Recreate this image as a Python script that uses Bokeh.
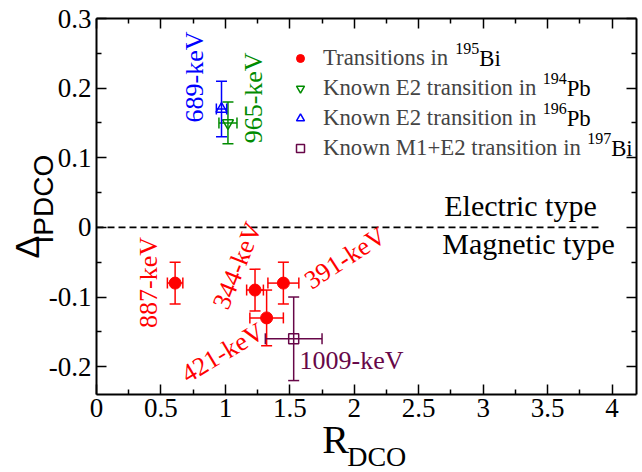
from bokeh.plotting import figure
from bokeh.models import (Range1d, FixedTicker, LinearAxis, Whisker, TeeHead,
                          ColumnDataSource, Legend, LegendItem)
from bokeh.core.properties import value
from bokeh.embed import file_html
from bokeh.resources import INLINE

# ---------------- data ----------------
bi195_x = [0.61, 1.23, 1.45, 1.32]
bi195_y = [-0.08, -0.09, -0.08, -0.13]
bi195_xerr = [0.06, 0.065, 0.12, 0.13]
bi195_yerr = [0.03, 0.03, 0.03, 0.04]
bi195_names = ["887-keV", "344-keV", "391-keV", "421-keV"]

pb194_x = [1.02]
pb194_y = [0.15]
pb194_xerr = [0.07]
pb194_yerr = [0.03]
pb194_names = ["965-keV"]

pb196_x = [0.97]
pb196_y = [0.17]
pb196_xerr = [0.04]
pb196_yerr = [0.04]
pb196_names = ["689-keV"]

bi197_x = [1.53]
bi197_y = [-0.16]
bi197_xerr = [0.22]
bi197_yerr = [0.06]
bi197_names = ["1009-keV"]

legend_main = ["Transitions in",
               "Known E2 transition in",
               "Known E2 transition in",
               "Known M1+E2 transition in"]
legend_mass = ["195", "194", "196", "197"]
legend_elem = ["Bi", "Pb", "Pb", "Bi"]

x_ticks = [0, 0.5, 1, 1.5, 2, 2.5, 3, 3.5, 4]
x_tick_labels = ["0", "0.5", "1", "1.5", "2", "2.5", "3", "3.5", "4"]
x_minor = [0.25, 0.75, 1.25, 1.75, 2.25, 2.75, 3.25, 3.75]
y_ticks = [-0.2, -0.1, 0, 0.1, 0.2, 0.3]
y_tick_labels = ["-0.2", "-0.1", "0", "0.1", "0.2", "0.3"]
y_minor = [-0.15, -0.05, 0.05, 0.15, 0.25]

X_MIN, X_MAX = 0.0, 4.19
Y_MIN, Y_MAX = -0.24, 0.30
zero_line_x = [0, 3.9]

# ---------------- layout ----------------
W, H = 642, 472
BOX_L, BOX_R, BOX_T, BOX_B = 96, 636, 18, 394   # pixel box of the axes
sx = (BOX_R - BOX_L) / (X_MAX - X_MIN)
sy = (BOX_B - BOX_T) / (Y_MAX - Y_MIN)
x_start = X_MIN - BOX_L / sx
x_end = X_MAX + (W - BOX_R) / sx
y_start = Y_MIN - (H - BOX_B) / sy
y_end = Y_MAX + BOX_T / sy


def px2x(px):
    return X_MIN + (px - BOX_L) / sx


def py2y(py):
    return Y_MAX - (py - BOX_T) / sy


RED = "#ff0000"
GREEN = "#008b00"
BLUE = "#0000ff"
MAROON = "#670748"
SERIF = "Liberation Serif"
SANS = "Liberation Sans"

p = figure(width=W, height=H, output_backend="svg", toolbar_location=None,
           x_range=Range1d(x_start, x_end), y_range=Range1d(y_start, y_end),
           min_border=0, background_fill_color="white",
           border_fill_color="white")
p.grid.visible = False
p.outline_line_color = None

xt = FixedTicker(ticks=x_ticks, minor_ticks=x_minor)
yt = FixedTicker(ticks=y_ticks, minor_ticks=y_minor)


def style_axis(ax, ticker, loc, bounds, labels=None):
    ax.ticker = ticker
    ax.fixed_location = loc
    ax.bounds = bounds
    ax.axis_line_color = "black"
    ax.axis_line_width = 2
    ax.major_tick_in = 10
    ax.major_tick_out = 0
    ax.minor_tick_in = 5
    ax.minor_tick_out = 0
    ax.major_tick_line_width = 1.5
    ax.minor_tick_line_width = 1.5
    ax.major_tick_line_color = "black"
    ax.minor_tick_line_color = "black"
    ax.major_label_text_font = SERIF
    ax.major_label_text_font_size = "27px"
    ax.major_label_text_color = "black"
    ax.major_label_overrides = labels


style_axis(p.xaxis[0], xt, Y_MIN, (X_MIN, X_MAX), dict(zip(x_ticks, x_tick_labels)))
p.xaxis[0].major_label_standoff = 4
style_axis(p.yaxis[0], yt, X_MIN, (Y_MIN, Y_MAX), dict(zip(y_ticks, y_tick_labels)))
p.yaxis[0].major_label_standoff = 5

top_ax = LinearAxis()
style_axis(top_ax, xt, Y_MAX, (X_MIN, X_MAX), {t: "" for t in x_ticks})
p.add_layout(top_ax, "above")
right_ax = LinearAxis()
style_axis(right_ax, yt, X_MAX, (Y_MIN, Y_MAX), {t: "" for t in y_ticks})
p.add_layout(right_ax, "right")

# zero line
p.line(x=zero_line_x, y=[0, 0], line_color="black", line_width=1.8, line_dash="7 4")


def add_series(xs, ys, xe, ye, color):
    src = ColumnDataSource(dict(
        x=xs, y=ys,
        xl=[a - b for a, b in zip(xs, xe)], xu=[a + b for a, b in zip(xs, xe)],
        yl=[a - b for a, b in zip(ys, ye)], yu=[a + b for a, b in zip(ys, ye)]))
    for dim, base, lo, hi in (("height", "x", "yl", "yu"), ("width", "y", "xl", "xu")):
        w = Whisker(source=src, base=base, lower=lo, upper=hi, dimension=dim,
                    line_color=color, line_width=1.5, level="glyph",
                    upper_head=TeeHead(size=11, line_color=color, line_width=1.5),
                    lower_head=TeeHead(size=11, line_color=color, line_width=1.5))
        p.add_layout(w)
    return src


s_red = add_series(bi195_x, bi195_y, bi195_xerr, bi195_yerr, RED)
s_green = add_series(pb194_x, pb194_y, pb194_xerr, pb194_yerr, GREEN)
s_blue = add_series(pb196_x, pb196_y, pb196_xerr, pb196_yerr, BLUE)
s_maroon = add_series(bi197_x, bi197_y, bi197_xerr, bi197_yerr, MAROON)

r_red = p.scatter("x", "y", source=s_red, marker="circle", size=12,
                  fill_color=RED, line_color=RED)
r_green = p.scatter("x", "y", source=s_green, marker="inverted_triangle", size=11,
                    fill_color=None, line_color=GREEN, line_width=1.5)
r_blue = p.scatter("x", "y", source=s_blue, marker="triangle", size=11,
                   fill_color=None, line_color=BLUE, line_width=1.5)
r_maroon = p.scatter("x", "y", source=s_maroon, marker="square", size=10,
                     fill_color=None, line_color=MAROON, line_width=1.5)

# legend: markers + main text from Bokeh's Legend, mass number / element after it
LEG_X, LEG_TOP, ROW_H = 290, 43, 30
LEG_FS, SUP_FS = 22.8, 16
TEXT_X0 = LEG_X + 20 + 13
legend = Legend(items=[LegendItem(label=t, renderers=[r])
                       for t, r in zip(legend_main, [r_red, r_green, r_blue, r_maroon])],
                location=(LEG_X, H - (LEG_TOP + 4 * ROW_H)), border_line_color=None,
                background_fill_alpha=0, label_text_font=SERIF,
                label_text_font_size=f"{LEG_FS}px", glyph_width=20,
                glyph_height=ROW_H, label_height=ROW_H, spacing=0, padding=0,
                margin=0, label_standoff=13)
p.add_layout(legend)

# advance widths (em) of "main text + space" in Times-metric serif
main_em = [5.778, 9.611, 9.611, 11.564]
for i in range(4):
    row_c = LEG_TOP + ROW_H * (i + 0.5)
    sup_px = TEXT_X0 + main_em[i] * LEG_FS
    elem_px = sup_px + 1.5 * SUP_FS
    p.text(x=[px2x(sup_px)], y=[py2y(row_c - 10)], text=[legend_mass[i]],
           text_align="left", text_baseline="middle", text_color="black",
           text_font=value(SERIF), text_font_size=f"{SUP_FS}px")
    p.text(x=[px2x(elem_px)], y=[py2y(row_c)], text=[legend_elem[i]],
           text_align="left", text_baseline="middle", text_color="black",
           text_font=value(SERIF), text_font_size=f"{LEG_FS}px")


def put_text(x, y, txt, angle, color, size, font=SERIF, align="center"):
    p.text(x=[x], y=[y], text=[txt], angle=angle, angle_units="deg",
           text_align=align, text_baseline="middle", text_color=color,
           text_font=value(font), text_font_size=size)


# energy labels (layout positions in data units)
put_text(0.762, 0.216, pb196_names[0], 90, BLUE, "26px")
put_text(1.22, 0.186, pb194_names[0], 90, GREEN, "26px")
put_text(0.407, -0.079, bi195_names[0], 90, RED, "26px")
put_text(1.092, -0.055, bi195_names[1], 68, RED, "26px")
put_text(1.93, -0.044, bi195_names[2], 33, RED, "26px")
put_text(0.979, -0.180, bi195_names[3], 31, RED, "26px")
put_text(px2x(299), py2y(360), bi197_names[0], 0, MAROON, "26px", align="left")

put_text(px2x(520), py2y(205), "Electric type", 0, "black", "30px")
put_text(px2x(528), py2y(243), "Magnetic type", 0, "black", "30px")

# axis titles
put_text(px2x(321.7), py2y(439), "R", 0, "black", "40px", align="left")
put_text(px2x(346.7), py2y(455.5), "DCO", 0, "black", "28px", align="left")
put_text(px2x(26.5), py2y(258), "\u0394", 90, "black", "34px", font=SANS, align="left")
put_text(px2x(43), py2y(243), "IPDCO", 90, "black", "28px", font=SANS, align="left")

open("out.html", "w").write(file_html(p, INLINE))
